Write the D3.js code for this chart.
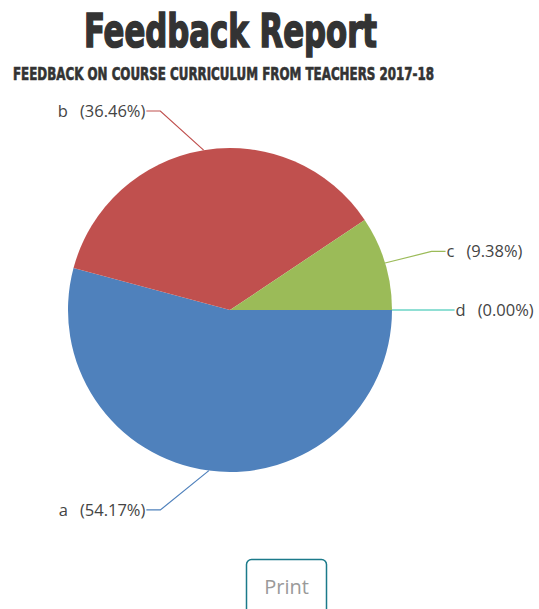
<!DOCTYPE html>
<html>
<head>
<meta charset="utf-8">
<script src="https://cdn.jsdelivr.net/npm/d3@7"></script>
<style>
  body { margin: 0; background: #fff; }
  svg { display: block; }
</style>
</head>
<body>
<svg id="chart" width="539" height="609"></svg>
<script>
const categories = ['a', 'b', 'c', 'd']
const responses = [52, 35, 9, 0]
const percentLabels = ['54.17%', '36.46%', '9.38%', '0.00%']
const colors = ['#4F81BC', '#C0504E', '#9BBB58', '#23BFAA']

const svg = d3.select('#chart')
const cx = 230
const cy = 310
const radius = 162

// titles
svg.append('text')
  .attr('x', 84)
  .attr('y', 47)
  .attr('textLength', 293)
  .attr('lengthAdjust', 'spacingAndGlyphs')
  .style('font-family', "Impact, 'Liberation Sans Narrow', 'DejaVu Sans Condensed', sans-serif")
  .style('font-weight', 'bold')
  .style('font-size', '47px')
  .attr('fill', '#333')
  .attr('stroke', '#333')
  .attr('stroke-width', 1.6)
  .text('Feedback Report')

svg.append('text')
  .attr('transform', 'translate(13, 80) scale(1, 1.25)')
  .attr('textLength', 421)
  .attr('lengthAdjust', 'spacingAndGlyphs')
  .style('font-family', "Impact, 'Liberation Sans Narrow', 'DejaVu Sans Condensed', sans-serif")
  .style('font-weight', 'bold')
  .style('font-size', '14px')
  .attr('fill', '#333')
  .attr('stroke', '#333')
  .attr('stroke-width', 0.5)
  .text('FEEDBACK ON COURSE CURRICULUM FROM TEACHERS 2017-18')

const z = d3.scaleOrdinal().domain(categories).range(colors)

const pie = d3.pie()
  .sort(null)
  .value((d) => d.value)
  .startAngle(Math.PI / 2)
  .endAngle(Math.PI / 2 + 2 * Math.PI)

const data = categories.map((c, i) => ({ key: c, value: responses[i], pct: percentLabels[i] }))
const arcs = pie(data)

const arc = d3.arc().innerRadius(0).outerRadius(radius)

const g = svg.append('g').attr('transform', `translate(${cx}, ${cy})`)

g.selectAll('.slice')
  .data(arcs)
  .enter()
  .append('path')
  .attr('class', 'slice')
  .attr('d', arc)
  .attr('fill', (d) => z(d.data.key))

// leader lines + labels
const labelInfo = (d) => {
  const a = (d.startAngle + d.endAngle) / 2
  const s = Math.sin(a)
  const c = -Math.cos(a)
  const side = s >= 0 ? 1 : -1
  const p0 = [s * radius, c * radius]
  const ex = side * Math.max(Math.abs(1.3 * radius * s), 0.43 * radius)
  const ey = c * 1.245 * radius
  const p2 = [ex + side * 14, ey]
  return { side, pts: [p0, [ex, ey], p2] }
}

const labels = g.selectAll('.label')
  .data(arcs)
  .enter()
  .append('g')
  .attr('class', 'label')

labels.append('polyline')
  .attr('points', (d) => labelInfo(d).pts.map((p) => p.join(',')).join(' '))
  .attr('fill', 'none')
  .attr('stroke', (d) => z(d.data.key))
  .attr('stroke-width', 1.2)

const labelText = labels.append('text')
  .attr('x', (d) => { const l = labelInfo(d); return l.pts[2][0] + l.side * 1 })
  .attr('y', (d) => labelInfo(d).pts[2][1])
  .attr('dy', '0.35em')
  .attr('text-anchor', (d) => labelInfo(d).side > 0 ? 'start' : 'end')
  .style('font-family', "'Open Sans', 'Noto Sans', sans-serif")
  .style('font-size', '16.5px')
  .attr('fill', '#444')

labelText.append('tspan').text((d) => d.data.key)
labelText.append('tspan').attr('dx', 12).text((d) => `(${d.data.pct})`)

// print button
svg.append('rect')
  .attr('x', 246.5)
  .attr('y', 559.5)
  .attr('width', 80)
  .attr('height', 60)
  .attr('rx', 5)
  .attr('fill', '#fff')
  .attr('stroke', '#1b7a8a')
  .attr('stroke-width', 1.5)

svg.append('text')
  .attr('x', 286.5)
  .attr('y', 594)
  .attr('text-anchor', 'middle')
  .style('font-family', "'Open Sans', 'Noto Sans', sans-serif")
  .style('font-size', '20px')
  .attr('fill', '#9a9a9a')
  .text('Print')
</script>
</body>
</html>
